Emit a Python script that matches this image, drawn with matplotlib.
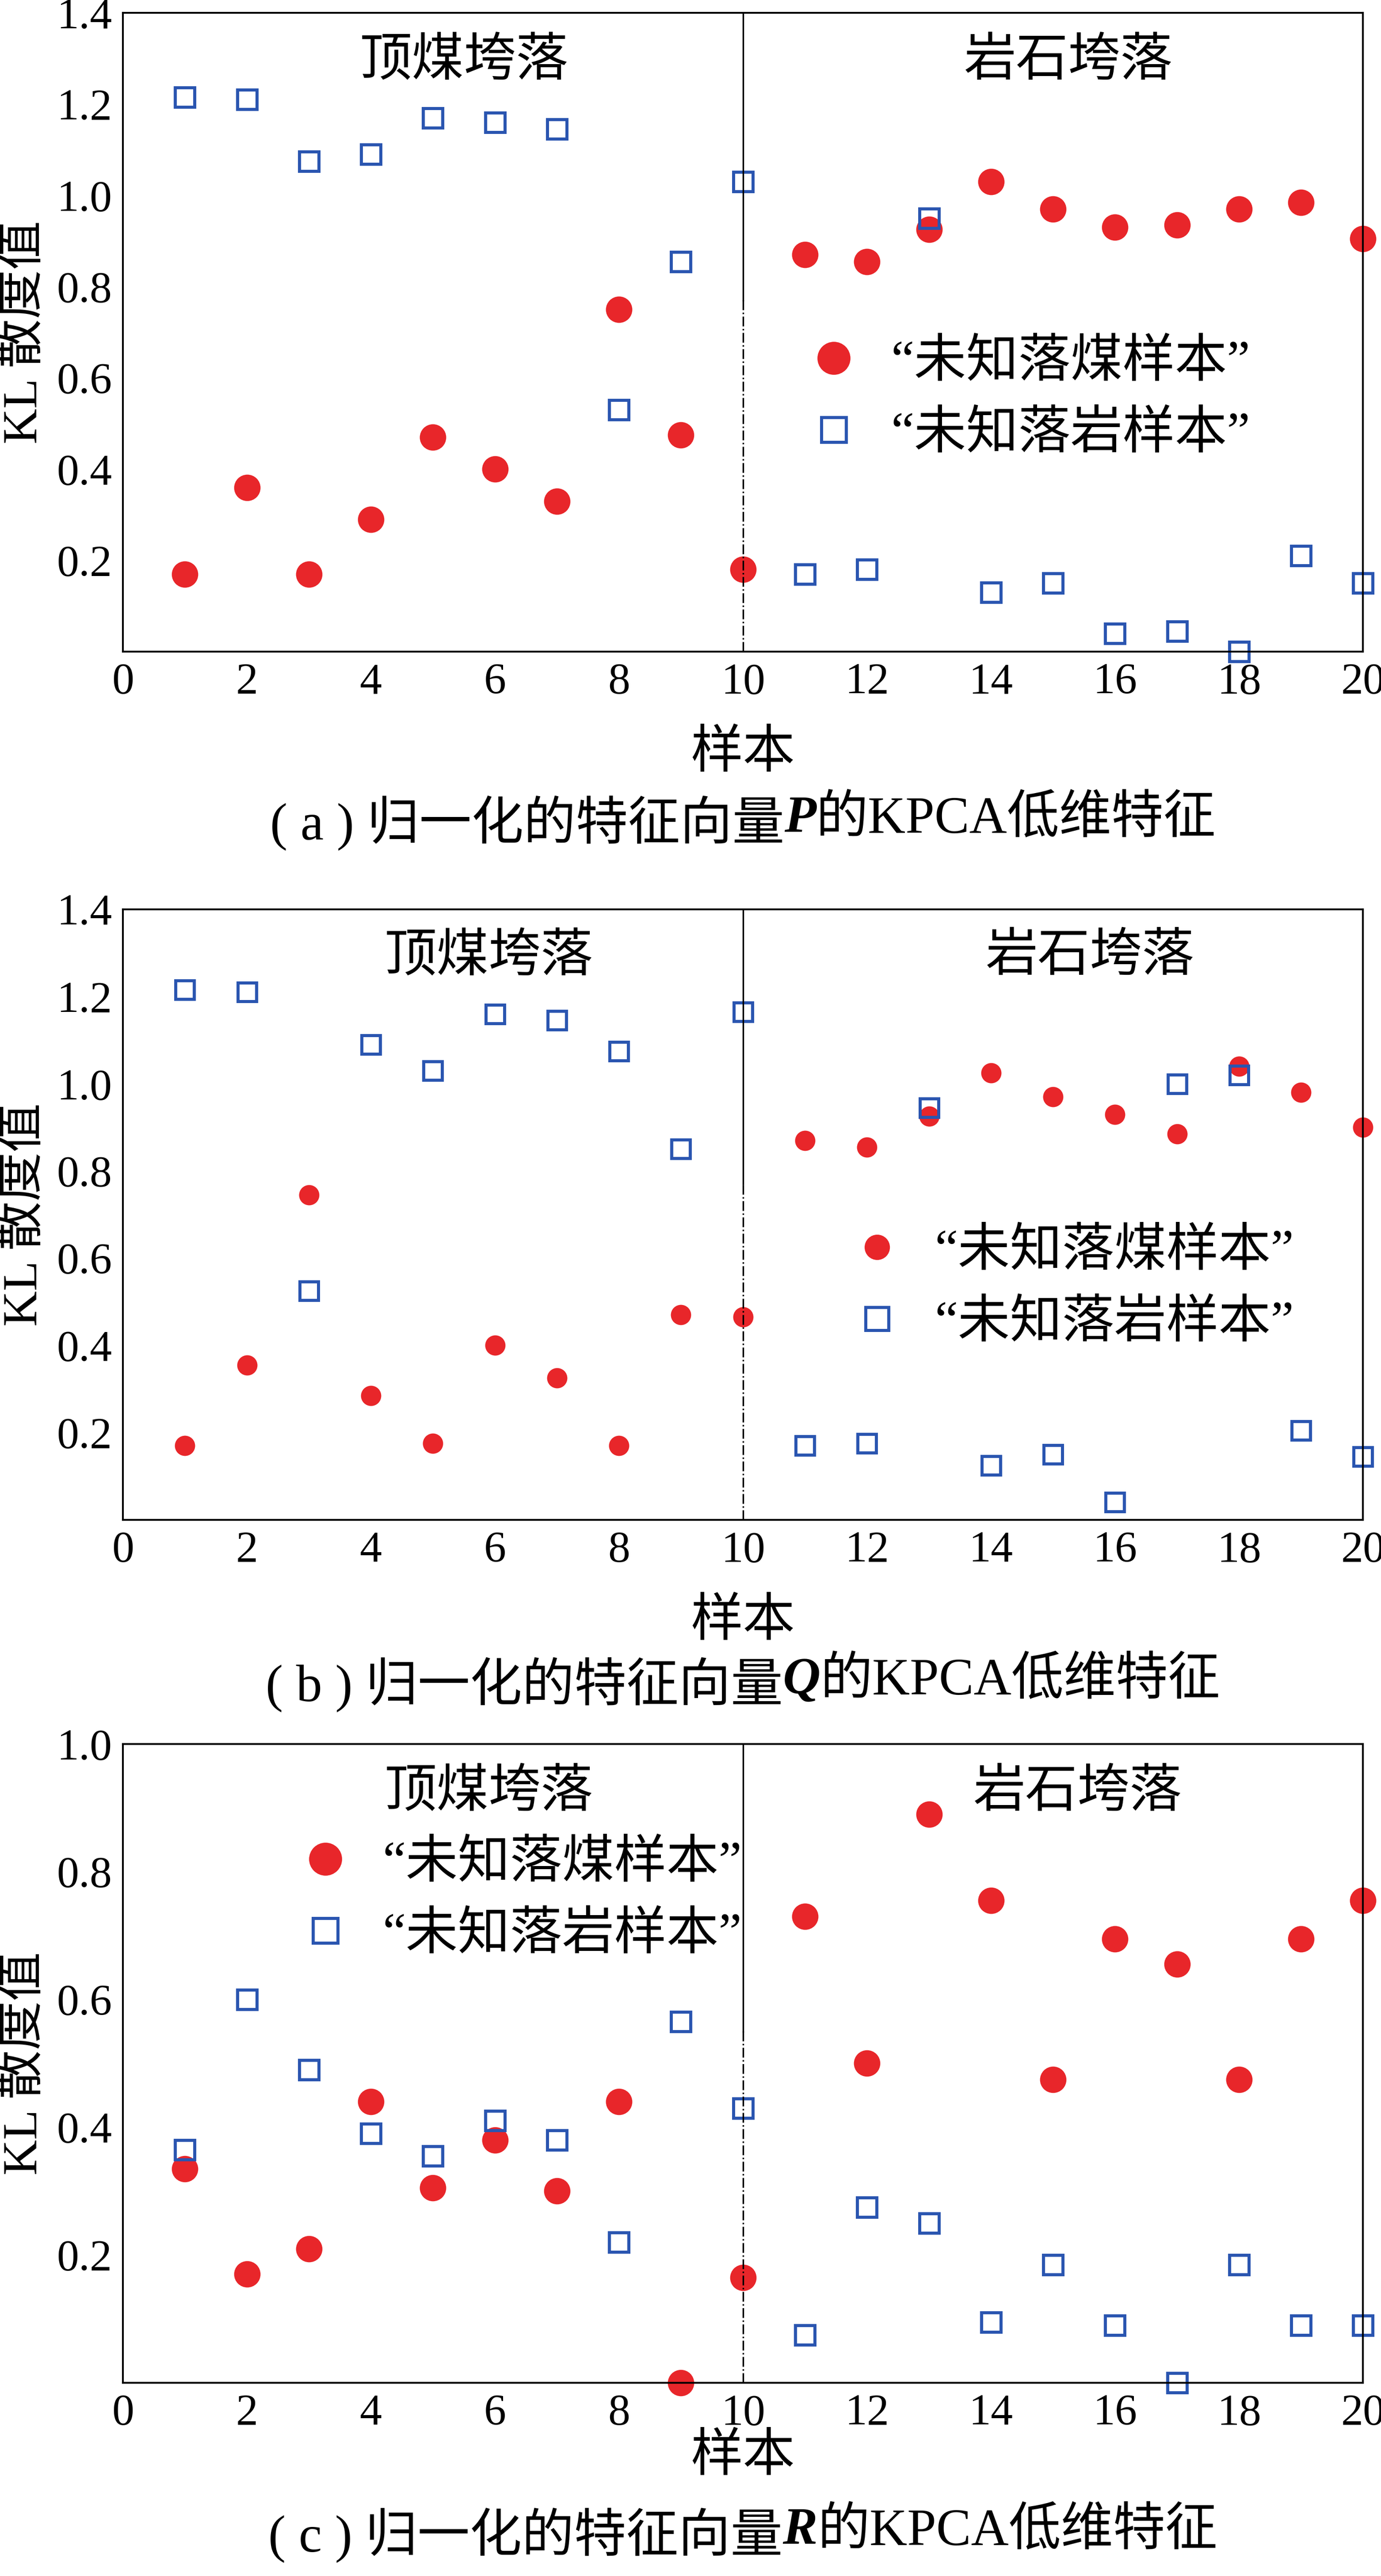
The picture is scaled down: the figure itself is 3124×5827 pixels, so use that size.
import matplotlib
matplotlib.use("Agg")
import matplotlib.pyplot as plt
import numpy as np

plt.rcParams['font.family'] = ['Liberation Serif', 'Noto Sans CJK SC']

samples = list(range(1, 21))
coal_a = [0.17,0.36,0.17,0.29,0.47,0.40,0.33,0.75,0.475,0.18,0.87,0.855,0.925,1.03,0.97,0.93,0.935,0.97,0.985,0.905]
rock_a = [1.215,1.21,1.075,1.09,1.17,1.16,1.145,0.53,0.855,1.03,0.17,0.18,0.95,0.13,0.15,0.04,0.045,0.0,0.21,0.15]
coal_b = [0.17,0.355,0.745,0.285,0.175,0.40,0.325,0.17,0.47,0.465,0.87,0.855,0.925,1.025,0.97,0.93,0.885,1.04,0.98,0.90]
rock_b = [1.215,1.21,0.525,1.09,1.03,1.16,1.145,1.075,0.85,1.165,0.17,0.175,0.945,0.125,0.15,0.04,1.0,1.02,0.205,0.145]
coal_c = [0.335,0.17,0.21,0.44,0.305,0.38,0.30,0.44,0.0,0.165,0.73,0.50,0.89,0.755,0.475,0.695,0.655,0.475,0.695,0.755]
rock_c = [0.365,0.60,0.49,0.39,0.355,0.41,0.38,0.22,0.565,0.43,0.075,0.275,0.25,0.095,0.185,0.09,0.0,0.185,0.09,0.09]

captions = [("( a ) 归一化的特征向量", "P", "的KPCA低维特征"),
            ("( b ) 归一化的特征向量", "Q", "的KPCA低维特征"),
            ("( c ) 归一化的特征向量", "R", "的KPCA低维特征")]

fig = plt.figure(figsize=(31.24, 58.27), dpi=100)
L, R = 0.089, 0.987
panels = [
    (0.747, 0.995, coal_a, rock_a, 1.4, 43, 32, (0.51, 0.53), 45, 0.225, 5.5, 15.25),
    (0.410, 0.647, coal_b, rock_b, 1.4, 33, 30, (0.545, 0.52), 45, 0.225, 5.9, 15.6),
    (0.075, 0.323, coal_c, rock_c, 1.0, 43, 32, (0.10, 0.89), 0, 0.195, 5.9, 15.4),
]
red = '#e8262a'
blue = '#2a55b0'
fs = 72
fc = 85
cap_texts = []
for i, (b, t, coal, rock, ymax, ms_c, ms_r, lg, lp, cy, x1, x2) in enumerate(panels):
    ax = fig.add_axes([L, b, R - L, t - b])
    ax.set_xlim(0, 20)
    ax.set_ylim(0, ymax)
    ax.plot(samples, coal, 'o', color=red, markersize=ms_c, markeredgewidth=0, label='“未知落煤样本”', clip_on=False)
    ax.plot(samples, rock, 's', markerfacecolor='none', markeredgecolor=blue, markersize=ms_r, markeredgewidth=5, label='“未知落岩样本”', clip_on=False)
    ax.plot([10, 10], [0.55 * ymax, ymax], color='black', lw=2.5)
    ax.plot([10, 10], [0, 0.55 * ymax], color='black', lw=2.5, ls='-.')
    ax.text(x1, ymax * 0.96, '顶煤垮落', ha='center', va='top', fontsize=fc)
    ax.text(x2, ymax * 0.96, '岩石垮落', ha='center', va='top', fontsize=fc)
    ax.set_xticks(range(0, 21, 2))
    yt = np.round(np.arange(0.2, ymax + 0.001, 0.2), 1)
    ax.set_yticks(yt)
    ax.set_yticklabels([f'{v:.1f}' for v in yt])
    ax.tick_params(labelsize=fs, direction='in', length=0, pad=18)
    for s in ax.spines.values():
        s.set_linewidth(3)
    ax.set_xlabel('样本', fontsize=fc, labelpad=lp)
    ax.set_ylabel('KL 散度值', fontsize=80, labelpad=16)
    ax.legend(loc='upper left', bbox_to_anchor=lg, frameon=False, fontsize=fc,
              handletextpad=0.1, labelspacing=0.45, borderpad=0, markerscale=1.25)
    p1 = ax.text(0, -cy, captions[i][0], transform=ax.transAxes, ha='left', va='top', fontsize=fc)
    p2 = ax.text(0, -cy, captions[i][1], transform=ax.transAxes, ha='left', va='top', fontsize=fc,
                 fontweight='bold', fontstyle='italic')
    p3 = ax.text(0, -cy, captions[i][2], transform=ax.transAxes, ha='left', va='top', fontsize=fc)
    cap_texts.append((ax, cy, p1, p2, p3))

fig.canvas.draw()
r = fig.canvas.get_renderer()
for ax, cy, p1, p2, p3 in cap_texts:
    w = [p.get_window_extent(r).width for p in (p1, p2, p3)]
    axw = ax.get_window_extent(r).width
    x0 = 0.5 - sum(w) / 2 / axw
    p1.set_x(x0)
    p2.set_x(x0 + w[0] / axw)
    p3.set_x(x0 + (w[0] + w[1]) / axw)

fig.savefig('out.png', dpi=100)
